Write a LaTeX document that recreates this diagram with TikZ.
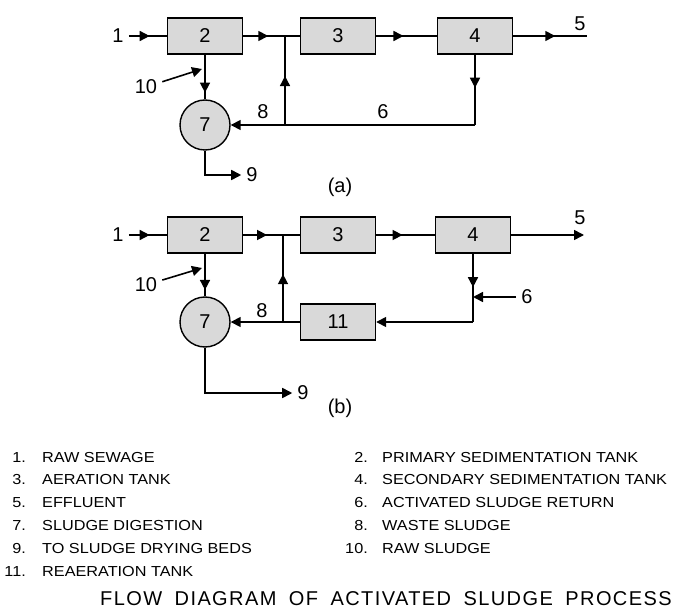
\documentclass[tikz,border=0pt]{standalone}
\usepackage{fontspec}
\setmainfont{Liberation Sans}
\newfontfamily\legendfont[FakeStretch=1.12]{Liberation Sans}
\newfontfamily\titlefont[LetterSpace=7,WordSpace=1.8]{Liberation Sans}
\usetikzlibrary{arrows.meta,decorations.markings}

\begin{document}
\begin{tikzpicture}[x=1pt, y=-1pt,
  tank/.style={rectangle, draw, fill=black!15, line width=1.4pt, minimum width=75pt,
    minimum height=36pt, inner sep=0pt, font=\fontsize{20}{20}\selectfont},
  digester/.style={circle, draw, fill=black!15, line width=1.4pt, minimum size=50pt,
    inner sep=0pt, font=\fontsize{20}{20}\selectfont},
  lbl/.style={inner sep=5pt, font=\fontsize{20}{20}\selectfont},
  flow/.style={line width=1.6pt},
  midarrow/.style={flow, postaction={decorate}, decoration={markings,
    mark=at position #1 with {\arrow{Triangle[length=10pt,width=10pt]}}}},
  endarrow/.style={flow, -{Triangle[length=10pt,width=10pt]}},
  legnum/.style={anchor=base east, inner sep=0pt, font=\legendfont\fontsize{14.5}{14.5}\selectfont},
  legtxt/.style={anchor=base west, inner sep=0pt, font=\legendfont\fontsize{14.5}{14.5}\selectfont}
]
\useasboundingbox (0,0) rectangle (684,609);

% (a)
\node[tank] (a2) at (205,36) {2};
\node[tank] (a3) at (338,36) {3};
\node[tank] (a4) at (475,36) {4};
\node[digester] (a7) at (205,125) {7};
\node[lbl] (a1) at (118,36) {1};
\node[lbl] (a5) at (580,24) {5};
\node[lbl] (a6) at (383,112) {6};
\node[lbl] (a8) at (263,112) {8};
\node[lbl] (a9) at (252,175) {9};
\node[lbl] (a10) at (146,87) {10};
\node[lbl] (acap) at (340,187) {(a)};
\coordinate (a5e) at (587,36);
\coordinate (ajn) at (285,36);
\coordinate (ajs) at (ajn |- a7.center);
\coordinate (a6c) at (a4.south |- a7.center);
\coordinate (a10t) at (202,69);

\draw[midarrow=0.55] (a1) -- (a2);
\draw[midarrow=0.6] (a2) -- (ajn);
\draw[flow] (ajn) -- (a3);
\draw[midarrow=0.45] (a3) -- (a4);
\draw[midarrow=0.57] (a4) -- (a5e);
\draw[midarrow=0.47] (a4) -- (a6c);
\draw[endarrow] (a6c) -- (a7);
\draw[midarrow=0.55] (ajs) -- (ajn);
\draw[midarrow=0.85] (a2) -- (a7);
\draw[endarrow] (a10) -- (a10t);
\draw[endarrow] (a7) |- (a9);

% (b)
\node[tank] (b2) at (205,235) {2};
\node[tank] (b3) at (338,235) {3};
\node[tank] (b4) at (473,235) {4};
\node[tank] (b11) at (338,322) {11};
\node[digester] (b7) at (205,322) {7};
\node[lbl] (b1) at (118,235) {1};
\node[lbl] (b5) at (580,218) {5};
\node[lbl] (b6) at (527,297) {6};
\node[lbl] (b8) at (262,311) {8};
\node[lbl] (b9) at (303,393) {9};
\node[lbl] (b10) at (146,285) {10};
\node[lbl] (bcap) at (340,408) {(b)};
\coordinate (b5e) at (584,235);
\coordinate (bjn) at (283,235);
\coordinate (bjs) at (bjn |- b7.center);
\coordinate (b6c) at (b4.south |- b7.center);
\coordinate (b6m) at (b4.south |- b6);
\coordinate (b10t) at (202,268);

\draw[midarrow=0.55] (b1) -- (b2);
\draw[midarrow=0.6] (b2) -- (bjn);
\draw[flow] (bjn) -- (b3);
\draw[midarrow=0.45] (b3) -- (b4);
\draw[endarrow] (b4) -- (b5e);
\draw[midarrow=0.49] (b4) -- (b6c);
\draw[endarrow] (b6) -- (b6m);
\draw[endarrow] (b6c) -- (b11);
\draw[endarrow] (b11) -- (b7);
\draw[midarrow=0.55] (bjs) -- (bjn);
\draw[midarrow=0.85] (b2) -- (b7);
\draw[endarrow] (b10) -- (b10t);
\draw[endarrow] (b7) |- (b9);

% legend
\foreach \n/\t [count=\i] in {1/RAW SEWAGE, 3/AERATION TANK, 5/EFFLUENT,
    7/SLUDGE DIGESTION, 9/TO SLUDGE DRYING BEDS, 11/REAERATION TANK} {
  \node[legnum] (ln\n) at (26,{462+(\i-1)*22.8}) {\n.};
  \node[legtxt] (lt\n) at (42,{462+(\i-1)*22.8}) {\t};
}
\foreach \n/\t [count=\i] in {2/PRIMARY SEDIMENTATION TANK, 4/SECONDARY SEDIMENTATION TANK,
    6/ACTIVATED SLUDGE RETURN, 8/WASTE SLUDGE, 10/RAW SLUDGE} {
  \node[legnum] (ln\n) at (368,{462+(\i-1)*22.8}) {\n.};
  \node[legtxt] (lt\n) at (382,{462+(\i-1)*22.8}) {\t};
}
\node[anchor=base west, inner sep=0pt, font=\titlefont\fontsize{20}{20}\selectfont]
  (title) at (100,605) {FLOW DIAGRAM OF ACTIVATED SLUDGE PROCESS};
\end{tikzpicture}
\end{document}
